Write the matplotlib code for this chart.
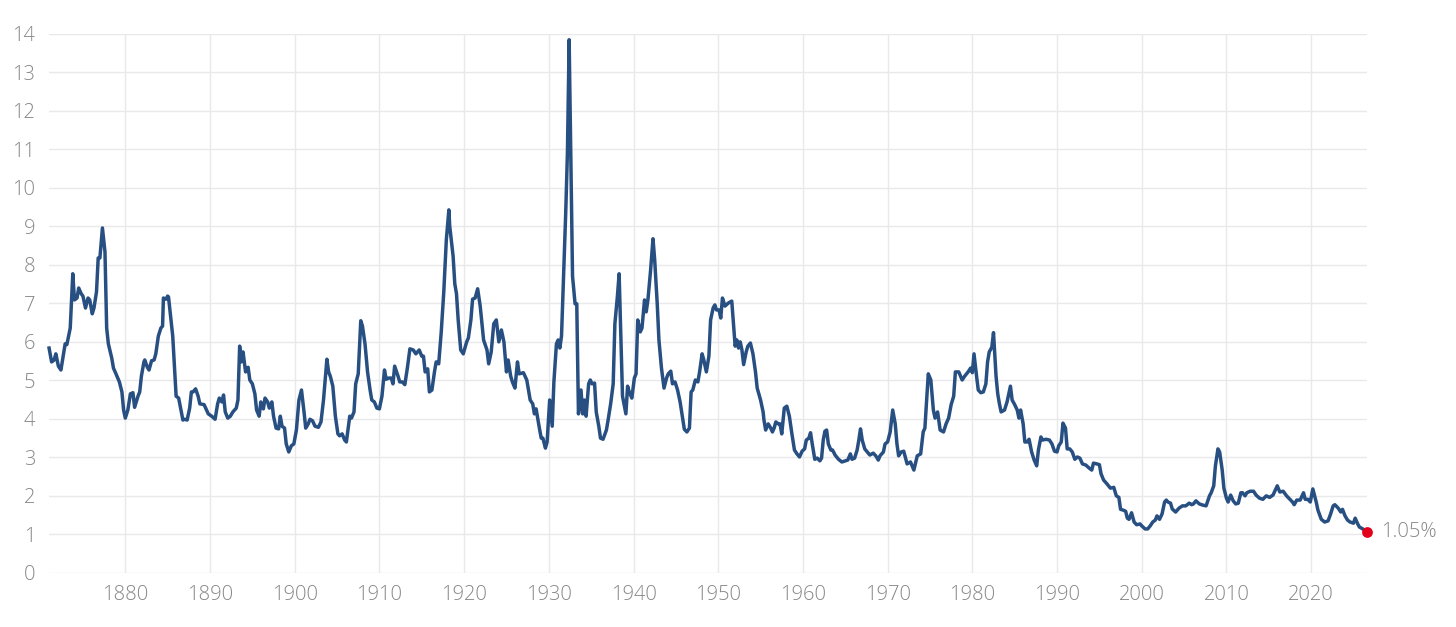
import matplotlib.pyplot as plt

# S&P 500 dividend yield (%)
years = [
    1871.0, 1871.3, 1871.6, 1871.8, 1872.1, 1872.4, 1872.9, 1873.1, 1873.5, 1873.8,
    1874.0, 1874.3, 1874.5, 1874.8, 1875.0, 1875.3, 1875.6, 1875.8, 1876.1, 1876.3,
    1876.6, 1876.8, 1877.0, 1877.3, 1877.6, 1877.8, 1878.0, 1878.4, 1878.6, 1878.9,
    1879.3, 1879.6, 1879.8, 1880.0, 1880.3, 1880.6, 1880.9, 1881.1, 1881.5, 1881.7,
    1881.9, 1882.2, 1882.3, 1882.6, 1882.8, 1883.1, 1883.4, 1883.6, 1883.9, 1884.2,
    1884.4, 1884.5, 1884.8, 1885.0, 1885.1, 1885.6, 1886.0, 1886.3, 1886.8, 1887.0,
    1887.3, 1887.6, 1887.8, 1888.0, 1888.3, 1888.6, 1888.8, 1889.3, 1889.8, 1890.2,
    1890.6, 1890.9, 1891.1, 1891.4, 1891.6, 1891.8, 1892.1, 1892.4, 1892.7, 1893.1,
    1893.3, 1893.5, 1893.7, 1893.9, 1894.2, 1894.5, 1894.7, 1895.0, 1895.3, 1895.5,
    1895.8, 1896.0, 1896.3, 1896.5, 1896.8, 1897.0, 1897.3, 1897.5, 1897.8, 1898.1,
    1898.3, 1898.5, 1898.8, 1899.0, 1899.3, 1899.6, 1899.9, 1900.2, 1900.5, 1900.8,
    1901.1, 1901.3, 1901.6, 1901.8, 1902.1, 1902.4, 1902.8, 1903.1, 1903.4, 1903.8,
    1904.0, 1904.2, 1904.5, 1904.8, 1905.1, 1905.3, 1905.6, 1905.9, 1906.1, 1906.5,
    1906.7, 1907.0, 1907.2, 1907.5, 1907.8, 1908.0, 1908.3, 1908.6, 1908.9, 1909.1,
    1909.4, 1909.7, 1910.0, 1910.3, 1910.6, 1910.8, 1911.1, 1911.4, 1911.6, 1911.8,
    1912.2, 1912.4, 1912.7, 1913.0, 1913.3, 1913.6, 1914.0, 1914.3, 1914.7, 1915.0,
    1915.2, 1915.4, 1915.7, 1915.9, 1916.2, 1916.5, 1916.7, 1917.0, 1917.3, 1917.6,
    1917.9, 1918.2, 1918.3, 1918.7, 1918.9, 1919.1, 1919.3, 1919.6, 1919.9, 1920.3,
    1920.5, 1920.8, 1921.0, 1921.3, 1921.6, 1921.9, 1922.3, 1922.7, 1922.9, 1923.2,
    1923.5, 1923.8, 1924.1, 1924.4, 1924.7, 1925.0, 1925.2, 1925.5, 1925.7, 1926.0,
    1926.3, 1926.5, 1927.0, 1927.4, 1927.8, 1928.1, 1928.3, 1928.5, 1928.8, 1929.1,
    1929.3, 1929.6, 1929.8, 1930.1, 1930.4, 1930.6, 1930.9, 1931.1, 1931.3, 1931.5,
    1931.8, 1932.0, 1932.2, 1932.4, 1932.6, 1932.8, 1933.1, 1933.3, 1933.5, 1933.8,
    1934.0, 1934.2, 1934.4, 1934.7, 1934.9, 1935.1, 1935.4, 1935.6, 1935.9, 1936.1,
    1936.4, 1936.8, 1937.0, 1937.3, 1937.6, 1937.8, 1938.1, 1938.3, 1938.5, 1938.7,
    1939.1, 1939.3, 1939.5, 1939.8, 1940.1, 1940.3, 1940.5, 1940.8, 1941.0, 1941.3,
    1941.5, 1941.7, 1942.0, 1942.3, 1942.5, 1942.8, 1943.0, 1943.3, 1943.6, 1943.9,
    1944.1, 1944.4, 1944.6, 1944.9, 1945.2, 1945.5, 1945.8, 1946.0, 1946.3, 1946.6,
    1946.8, 1947.0, 1947.3, 1947.6, 1947.8, 1948.1, 1948.3, 1948.6, 1948.9, 1949.1,
    1949.4, 1949.6, 1949.8, 1950.1, 1950.3, 1950.5, 1950.8, 1951.2, 1951.6, 1951.8,
    1952.0, 1952.2, 1952.4, 1952.6, 1952.8, 1953.0, 1953.3, 1953.5, 1953.8, 1954.1,
    1954.4, 1954.6, 1955.0, 1955.3, 1955.4, 1955.6, 1955.9, 1956.2, 1956.4, 1956.6,
    1956.8, 1957.1, 1957.3, 1957.5, 1957.8, 1958.1, 1958.4, 1958.7, 1959.0, 1959.3,
    1959.6, 1959.9, 1960.2, 1960.4, 1960.7, 1960.9, 1961.1, 1961.4, 1961.7, 1962.0,
    1962.2, 1962.4, 1962.6, 1962.8, 1963.0, 1963.3, 1963.5, 1963.8, 1964.2, 1964.6,
    1965.0, 1965.3, 1965.6, 1965.8, 1966.1, 1966.4, 1966.6, 1966.8, 1967.0, 1967.3,
    1967.6, 1967.9, 1968.3, 1968.6, 1968.9, 1969.1, 1969.5, 1969.7, 1970.0, 1970.3,
    1970.6, 1970.9, 1971.1, 1971.3, 1971.6, 1971.9, 1972.3, 1972.7, 1973.1, 1973.5,
    1973.9, 1974.2, 1974.4, 1974.8, 1975.1, 1975.4, 1975.6, 1975.9, 1976.2, 1976.6,
    1976.9, 1977.2, 1977.5, 1977.8, 1978.0, 1978.4, 1978.8, 1979.1, 1979.5, 1979.8,
    1980.0, 1980.2, 1980.5, 1980.7, 1981.0, 1981.3, 1981.6, 1981.8, 1982.0, 1982.3,
    1982.5, 1982.8, 1983.0, 1983.2, 1983.4, 1983.8, 1984.1, 1984.5, 1984.7, 1985.0,
    1985.3, 1985.5, 1985.7, 1986.0, 1986.2, 1986.5, 1986.7, 1987.0, 1987.3, 1987.6,
    1987.8, 1988.1, 1988.3, 1988.7, 1989.1, 1989.4, 1989.7, 1990.0, 1990.2, 1990.5,
    1990.7, 1991.0, 1991.2, 1991.5, 1991.8, 1992.1, 1992.4, 1992.7, 1993.0, 1993.4,
    1993.8, 1994.1, 1994.3, 1994.7, 1995.0, 1995.2, 1995.5, 1995.9, 1996.3, 1996.7,
    1997.0, 1997.3, 1997.5, 1997.8, 1998.1, 1998.3, 1998.5, 1998.8, 1999.1, 1999.4,
    1999.8, 2000.0, 2000.4, 2000.7, 2001.0, 2001.3, 2001.6, 2001.8, 2002.1, 2002.4,
    2002.7, 2002.9, 2003.1, 2003.4, 2003.6, 2004.0, 2004.4, 2004.8, 2005.2, 2005.6,
    2005.9, 2006.1, 2006.4, 2006.8, 2007.2, 2007.6, 2008.0, 2008.2, 2008.5, 2008.7,
    2009.0, 2009.2, 2009.5, 2009.7, 2010.0, 2010.2, 2010.5, 2010.8, 2011.1, 2011.4,
    2011.7, 2011.9, 2012.2, 2012.4, 2012.8, 2013.2, 2013.5, 2013.9, 2014.3, 2014.7,
    2015.1, 2015.5, 2016.0, 2016.3, 2016.7, 2017.1, 2017.5, 2017.8, 2018.0, 2018.3,
    2018.7, 2019.1, 2019.3, 2019.6, 2019.9, 2020.2, 2020.6, 2020.8, 2021.2, 2021.6,
    2022.0, 2022.3, 2022.6, 2022.8, 2023.2, 2023.5, 2023.7, 2024.0, 2024.3, 2024.6,
    2025.0, 2025.2, 2025.5, 2025.7, 2026.1, 2026.6,
]
yields = [
    5.84, 5.48, 5.53, 5.69, 5.37, 5.27, 5.95, 5.93, 6.36, 7.77,
    7.09, 7.14, 7.40, 7.25, 7.19, 6.88, 7.14, 7.09, 6.73, 6.88,
    7.30, 8.18, 8.18, 8.96, 8.34, 6.36, 5.95, 5.58, 5.32, 5.17,
    4.96, 4.70, 4.23, 4.02, 4.23, 4.65, 4.68, 4.30, 4.59, 4.70,
    5.11, 5.48, 5.53, 5.34, 5.27, 5.51, 5.53, 5.69, 6.15, 6.36,
    6.41, 7.14, 7.11, 7.19, 7.17, 6.15, 4.59, 4.54, 3.97, 3.99,
    3.97, 4.28, 4.70, 4.70, 4.78, 4.59, 4.39, 4.37, 4.13, 4.07,
    3.99, 4.39, 4.54, 4.44, 4.62, 4.18, 4.02, 4.07, 4.18, 4.28,
    4.49, 5.89, 5.48, 5.74, 5.22, 5.34, 5.01, 4.91, 4.65, 4.23,
    4.07, 4.44, 4.26, 4.54, 4.44, 4.28, 4.44, 4.07, 3.76, 3.74,
    4.07, 3.81, 3.76, 3.35, 3.14, 3.30, 3.35, 3.71, 4.49, 4.75,
    4.18, 3.76, 3.87, 3.99, 3.95, 3.81, 3.78, 3.92, 4.49, 5.55,
    5.22, 5.11, 4.85, 4.07, 3.61, 3.56, 3.61, 3.45, 3.40, 4.07,
    4.02, 4.18, 4.91, 5.17, 6.55, 6.41, 5.95, 5.22, 4.75, 4.49,
    4.44, 4.28, 4.26, 4.59, 5.27, 5.03, 5.06, 5.06, 4.91, 5.37,
    5.11, 4.96, 4.96, 4.89, 5.32, 5.82, 5.79, 5.69, 5.79, 5.63,
    5.63, 5.22, 5.30, 4.70, 4.75, 5.22, 5.48, 5.43, 6.26, 7.30,
    8.65, 9.43, 9.01, 8.23, 7.51, 7.25, 6.57, 5.79, 5.69, 6.00,
    6.10, 6.57, 7.11, 7.14, 7.38, 6.93, 6.05, 5.79, 5.43, 5.74,
    6.47, 6.57, 6.00, 6.31, 6.00, 5.22, 5.53, 5.11, 4.96, 4.80,
    5.48, 5.17, 5.20, 5.01, 4.49, 4.39, 4.13, 4.26, 3.87, 3.50,
    3.50, 3.24, 3.40, 4.49, 3.81, 4.96, 5.95, 6.05, 5.84, 6.15,
    8.13, 9.38, 10.94, 13.85, 10.73, 7.71, 6.99, 6.99, 4.13, 4.75,
    4.13, 4.49, 4.07, 4.91, 5.01, 4.91, 4.93, 4.18, 3.81, 3.50,
    3.47, 3.71, 3.97, 4.39, 4.91, 6.47, 7.19, 7.77, 6.15, 4.59,
    4.13, 4.85, 4.70, 4.54, 5.06, 5.17, 6.57, 6.26, 6.36, 7.09,
    6.78, 7.09, 7.82, 8.68, 8.13, 6.99, 6.05, 5.32, 4.80, 5.06,
    5.17, 5.24, 4.91, 4.96, 4.75, 4.44, 4.02, 3.73, 3.66, 3.76,
    4.70, 4.75, 5.01, 4.96, 5.22, 5.69, 5.53, 5.22, 5.63, 6.57,
    6.88, 6.96, 6.83, 6.83, 6.62, 7.14, 6.93, 7.01, 7.06, 6.47,
    5.89, 6.05, 5.84, 6.00, 5.79, 5.41, 5.74, 5.89, 5.97, 5.69,
    5.22, 4.80, 4.49, 4.18, 3.97, 3.71, 3.87, 3.76, 3.66, 3.76,
    3.92, 3.87, 3.87, 3.61, 4.28, 4.33, 4.07, 3.61, 3.19, 3.09,
    3.01, 3.16, 3.22, 3.45, 3.50, 3.64, 3.35, 2.95, 2.98, 2.91,
    2.98, 3.45, 3.68, 3.71, 3.35, 3.19, 3.19, 3.06, 2.95, 2.88,
    2.91, 2.93, 3.09, 2.95, 2.98, 3.19, 3.45, 3.74, 3.45, 3.22,
    3.14, 3.06, 3.11, 3.04, 2.93, 3.04, 3.14, 3.35, 3.40, 3.66,
    4.23, 3.87, 3.35, 3.04, 3.14, 3.16, 2.83, 2.88, 2.67, 3.04,
    3.09, 3.66, 3.76, 5.17, 5.01, 4.23, 4.02, 4.18, 3.71, 3.66,
    3.87, 4.02, 4.37, 4.59, 5.22, 5.22, 5.01, 5.11, 5.22, 5.32,
    5.20, 5.69, 5.11, 4.75, 4.68, 4.70, 4.91, 5.48, 5.74, 5.86,
    6.24, 5.11, 4.65, 4.39, 4.18, 4.23, 4.44, 4.85, 4.49, 4.37,
    4.23, 4.02, 4.23, 3.87, 3.40, 3.40, 3.47, 3.14, 2.93, 2.78,
    3.19, 3.53, 3.45, 3.47, 3.45, 3.35, 3.16, 3.14, 3.30, 3.40,
    3.89, 3.76, 3.22, 3.22, 3.14, 2.95, 3.01, 2.98, 2.83, 2.80,
    2.72, 2.67, 2.85, 2.83, 2.81, 2.57, 2.41, 2.31, 2.20, 2.22,
    2.00, 1.96, 1.65, 1.63, 1.60, 1.42, 1.39, 1.56, 1.32, 1.25,
    1.27, 1.22, 1.14, 1.14, 1.22, 1.32, 1.37, 1.48, 1.39, 1.53,
    1.84, 1.89, 1.84, 1.81, 1.66, 1.58, 1.68, 1.74, 1.74, 1.81,
    1.77, 1.79, 1.87, 1.79, 1.76, 1.74, 2.00, 2.08, 2.26, 2.78,
    3.22, 3.14, 2.67, 2.20, 1.94, 1.84, 2.02, 1.87, 1.79, 1.81,
    2.08, 2.08, 2.00, 2.08, 2.12, 2.12, 2.02, 1.94, 1.91, 2.00,
    1.96, 2.02, 2.26, 2.10, 2.12, 2.00, 1.91, 1.84, 1.77, 1.89,
    1.89, 2.08, 1.91, 1.91, 1.84, 2.18, 1.84, 1.63, 1.39, 1.32,
    1.35, 1.53, 1.74, 1.77, 1.68, 1.58, 1.65, 1.48, 1.37, 1.32,
    1.29, 1.42, 1.27, 1.19, 1.14, 1.05,
]

x_ticks = list(range(1880, 2030, 10))
y_ticks = list(range(0, 15))
current_label = "1.05%"

line_color = "#284f82"
dot_color = "#e3001b"
text_color = "#878787"
grid_color = "#e9e9ec"

plt.rcParams['font.family'] = ['Open Sans', 'DejaVu Sans']

fig = plt.figure(figsize=(14.56, 6.27), dpi=100)
ax = fig.add_axes([0.0337, 0.0864, 0.9052, 0.8594])

ax.plot(years, yields, color=line_color, linewidth=2.5, solid_joinstyle='round',
        zorder=3, clip_on=False)
ax.scatter([years[-1]], [yields[-1]], s=60, color=dot_color, zorder=4, linewidths=0,
           clip_on=False)
ax.annotate(current_label, (years[-1], yields[-1]), xytext=(10, 0), textcoords='offset points',
            va='center', ha='left', fontsize=14.5, color=text_color, fontweight='light',
            annotation_clip=False)

ax.set_xlim(years[0], years[-1])
ax.set_ylim(0, 14)
ax.set_xticks(x_ticks)
ax.set_yticks(y_ticks)

for s in ax.spines.values():
    s.set_visible(False)
ax.grid(True, color=grid_color, linewidth=1.0, zorder=0)
ax.set_axisbelow(True)
ax.tick_params(axis='both', length=0, labelsize=14.5, labelcolor=text_color)
ax.tick_params(axis='x', pad=9)
ax.tick_params(axis='y', pad=10)
for lab in ax.get_xticklabels() + ax.get_yticklabels():
    lab.set_fontweight('light')

fig.savefig("out.png", dpi=100, facecolor='white')
